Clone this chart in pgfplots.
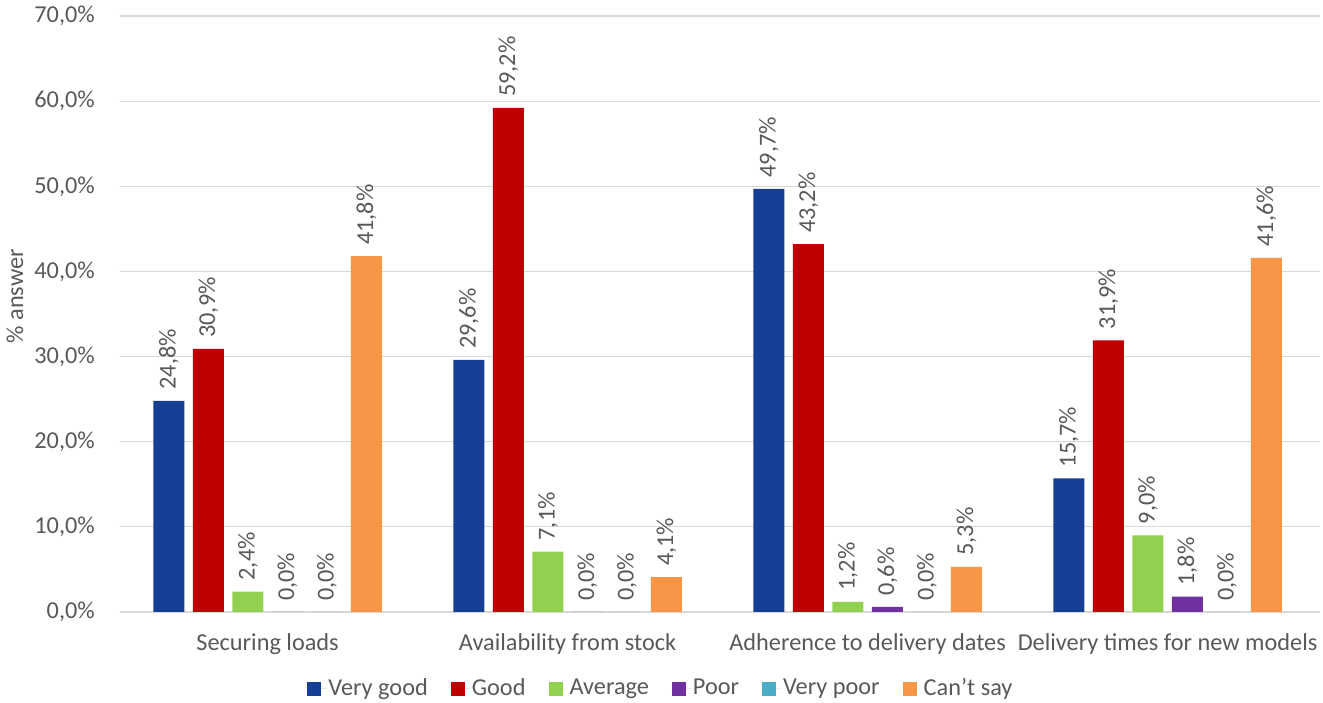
\documentclass[border=0pt]{standalone}
\usepackage{pgfplots}
\pgfplotsset{compat=1.18}
\usepackage{fontspec}
\setmainfont{Carlito}
\definecolor{cblue}{RGB}{21,63,148}
\definecolor{cred}{HTML}{C00000}
\definecolor{cgreen}{HTML}{92D050}
\definecolor{cpurple}{HTML}{7030A0}
\definecolor{ccyan}{HTML}{4BACC6}
\definecolor{corange}{HTML}{F79646}
\definecolor{ctext}{HTML}{595959}
\definecolor{cgrid}{HTML}{D9D9D9}
\begin{document}
\fontsize{24.3}{29}\selectfont
\begin{tikzpicture}
\path[use as bounding box] (0,0) rectangle (1323pt,703pt);
\begin{axis}[
  at={(120pt,91pt)}, anchor=south west,
  scale only axis, width=1200pt, height=596pt,
  ybar=8.5pt, bar width=31pt,
  xmin=-0.492, xmax=3.508, ymin=0, ymax=70,
  xtick={0,1,2,3},
  xticklabels={Securing loads, Availability from stock, Adherence to delivery dates, Delivery times for new models},
  ytick={0,10,...,70},
  /pgf/number format/.cd, use comma, fixed, fixed zerofill, precision=1, assume math mode=true,
  /pgfplots/.cd,
  yticklabel={\pgfmathprintnumber{\tick}\%},
  ymajorgrids, grid style={cgrid, line width=1.2pt},
  axis x line*=bottom, axis y line*=left,
  x axis line style={cgrid, line width=1.2pt, -},
  y axis line style={draw=none},
  major tick length=0pt,
  tick label style={text=ctext},
  xticklabel style={anchor=base, yshift=-39pt},
  yticklabel style={anchor=east, inner sep=0pt, xshift=-25pt},
  ylabel={\% answer},
  ylabel style={at={(axis description cs:-0.0875,0.53)}, anchor=center, text=ctext},
  nodes near coords={\pgfmathprintnumber{\pgfplotspointmeta}\%},
  every node near coord/.append style={rotate=90, anchor=west, inner xsep=11pt, inner ysep=0pt, text=ctext},
  legend columns=6,
  legend style={draw=none, at={(axis description cs:0.4508,-0.129)}, anchor=center, text=ctext,
    /tikz/every even column/.append style={column sep=21pt}},
  legend image code/.code={\fill[#1] (0pt,-7pt) rectangle (14pt,7pt); \path (0pt,0pt) -- (19pt,0pt);},
]
\addplot[fill=cblue, draw=none] coordinates {(0,24.8) (1,29.6) (2,49.7) (3,15.7)};
\addplot[fill=cred, draw=none] coordinates {(0,30.9) (1,59.2) (2,43.2) (3,31.9)};
\addplot[fill=cgreen, draw=none] coordinates {(0,2.4) (1,7.1) (2,1.2) (3,9.0)};
\addplot[fill=cpurple, draw=none] coordinates {(0,0.0) (1,0.0) (2,0.6) (3,1.8)};
\addplot[fill=ccyan, draw=none] coordinates {(0,0.0) (1,0.0) (2,0.0) (3,0.0)};
\addplot[fill=corange, draw=none] coordinates {(0,41.8) (1,4.1) (2,5.3) (3,41.6)};
\legend{Very good, Good, Average, Poor, Very poor, Can’t say}
\end{axis}
\end{tikzpicture}
\end{document}
